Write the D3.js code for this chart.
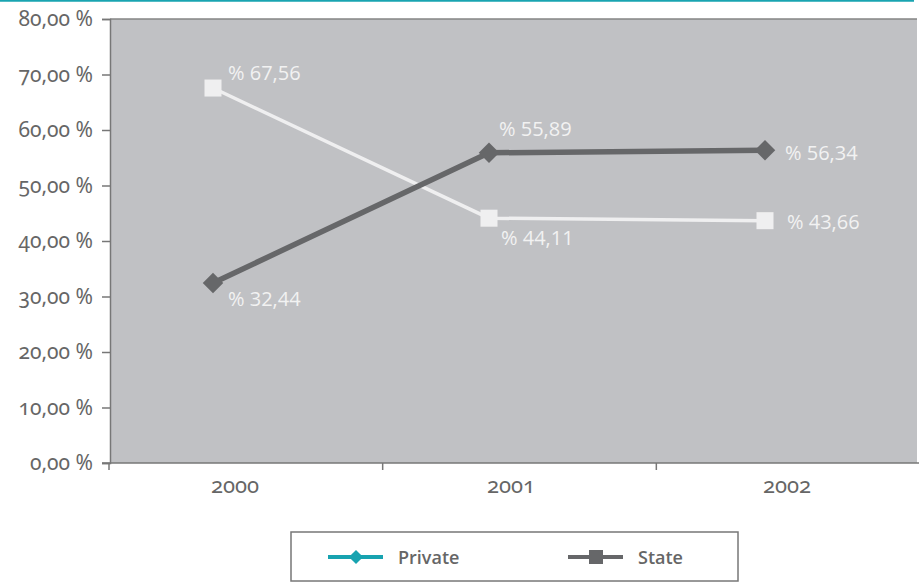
<!DOCTYPE html>
<html>
<head>
<meta charset="utf-8">
<script src="https://cdn.jsdelivr.net/npm/d3@7/dist/d3.min.js"></script>
<style>
  html, body { margin: 0; padding: 0; background: #fff; }
  svg { display: block; }
</style>
</head>
<body>
<svg id="chart" width="919" height="582"></svg>
<script>
// Share of enrolment by sector, 2000–2002
const years = ["2000", "2001", "2002"];
const privateValues = [32.44, 55.89, 56.34];
const stateValues = [67.56, 44.11, 43.66];
const yTicks = [0, 10, 20, 30, 40, 50, 60, 70, 80];
const seriesNames = ["Private", "State"];

const W = 919, H = 582;
const plot = { left: 110, right: 917, top: 19, bottom: 463 };

const svg = d3.select("#chart");
const axisFont = "'Noto Sans', 'Open Sans', sans-serif";
const labelFont = "'Open Sans', 'Noto Sans', sans-serif";

const y = d3.scaleLinear().domain([0, 80]).range([plot.bottom, plot.top]);
// category bands (tick marks sit on band edges)
const xBand = d3.scaleBand().domain(years).range([109, 930]);
// marker positions within each category
const xPt = d3.scalePoint().domain(years).range([213, 765]);

const fmt = v => d3.format(".2f")(v).replace(".", ",");

// teal rule across the top
svg.append("line")
  .attr("x1", 0).attr("x2", 914).attr("y1", 0.8).attr("y2", 0.8)
  .attr("stroke", "#19a4b1").attr("stroke-width", 2);

// plot background
svg.append("rect")
  .attr("x", plot.left).attr("y", plot.top)
  .attr("width", plot.right - plot.left).attr("height", plot.bottom - plot.top)
  .attr("fill", "#c0c1c4");

svg.append("line")
  .attr("x1", plot.left).attr("x2", plot.right)
  .attr("y1", plot.top).attr("y2", plot.top)
  .attr("stroke", "#858585").attr("stroke-width", 1.5);

// y axis
const yAxis = d3.axisLeft(y).tickValues(yTicks).tickSize(8).tickPadding(9)
  .tickFormat(d => fmt(d) + " %");
const gy = svg.append("g").attr("transform", `translate(${plot.left},0)`).call(yAxis);
gy.select(".domain").attr("stroke", "#777").attr("stroke-width", 1.5);
gy.selectAll(".tick line").attr("stroke", "#777").attr("stroke-width", 1.5);
gy.selectAll(".tick text")
  .attr("fill", "#666").attr("font-family", axisFont).attr("font-size", 21)
  .style("font-variant-numeric", "oldstyle-nums");

// x axis
svg.append("line")
  .attr("x1", 102).attr("x2", W).attr("y1", plot.bottom).attr("y2", plot.bottom)
  .attr("stroke", "#777").attr("stroke-width", 1.5);
const edges = years.map(d => xBand(d)).concat([xBand.range()[1]]);
svg.selectAll(".xtick").data(edges).enter().append("line")
  .attr("x1", d => d).attr("x2", d => d)
  .attr("y1", plot.bottom).attr("y2", plot.bottom + 7)
  .attr("stroke", "#777").attr("stroke-width", 1.5);
svg.selectAll(".xlabel").data(years).enter().append("text")
  .attr("x", d => xPt(d) + 22).attr("y", plot.bottom + 30)
  .attr("text-anchor", "middle")
  .attr("fill", "#666").attr("font-family", axisFont).attr("font-size", 22)
  .style("font-variant-numeric", "oldstyle-nums")
  .text(d => d);

const line = d3.line().x(d => xPt(d.year)).y(d => y(d.v));
const privData = years.map((yr, i) => ({ year: yr, v: privateValues[i] }));
const stateData = years.map((yr, i) => ({ year: yr, v: stateValues[i] }));

// State series (light, square markers)
svg.append("path").datum(stateData).attr("d", line)
  .attr("fill", "none").attr("stroke", "#efeff0").attr("stroke-width", 3.5);
svg.selectAll(".sq").data(stateData).enter().append("rect")
  .attr("x", d => xPt(d.year) - 8.5).attr("y", d => y(d.v) - 8.5)
  .attr("width", 17).attr("height", 17).attr("fill", "#efeff0");

// Private series (dark, diamond markers)
svg.append("path").datum(privData).attr("d", line)
  .attr("fill", "none").attr("stroke", "#666769").attr("stroke-width", 5.5);
svg.selectAll(".dm").data(privData).enter().append("path")
  .attr("transform", d => `translate(${xPt(d.year)},${y(d.v)}) rotate(45)`)
  .attr("d", d3.symbol().type(d3.symbolSquare).size(210))
  .attr("fill", "#666769");

// value labels
const labelOffsets = {
  state: [[15, -8], [12, 27], [22, 8]],
  priv: [[15, 23], [10, -17], [20, 10]]
};
function addLabels(data, offs) {
  svg.selectAll(null).data(data).enter().append("text")
    .attr("x", (d, i) => xPt(d.year) + offs[i][0])
    .attr("y", (d, i) => y(d.v) + offs[i][1])
    .attr("fill", "#f2f2f2").attr("font-family", labelFont).attr("font-size", 20)
    .text(d => "% " + fmt(d.v));
}
addLabels(stateData, labelOffsets.state);
addLabels(privData, labelOffsets.priv);

// legend
const lg = svg.append("g");
lg.append("rect").attr("x", 291).attr("y", 532).attr("width", 447).attr("height", 49)
  .attr("fill", "#fff").attr("stroke", "#777").attr("stroke-width", 1.5);
const legendColors = ["#17a3b0", "#666769"];
const legendX = [328, 568];
seriesNames.forEach((name, i) => {
  const x0 = legendX[i], cy = 557;
  lg.append("line").attr("x1", x0).attr("x2", x0 + 55).attr("y1", cy).attr("y2", cy)
    .attr("stroke", legendColors[i]).attr("stroke-width", 4);
  if (i === 0) {
    lg.append("path").attr("transform", `translate(${x0 + 28},${cy}) rotate(45)`)
      .attr("d", d3.symbol().type(d3.symbolSquare).size(100)).attr("fill", legendColors[i]);
  } else {
    lg.append("rect").attr("x", x0 + 21).attr("y", cy - 7).attr("width", 14).attr("height", 14)
      .attr("fill", legendColors[i]);
  }
  lg.append("text").attr("x", x0 + 70).attr("y", cy + 7)
    .attr("fill", "#666").attr("font-family", labelFont).attr("font-weight", 600)
    .attr("font-size", 18).text(name);
});
</script>
</body>
</html>
